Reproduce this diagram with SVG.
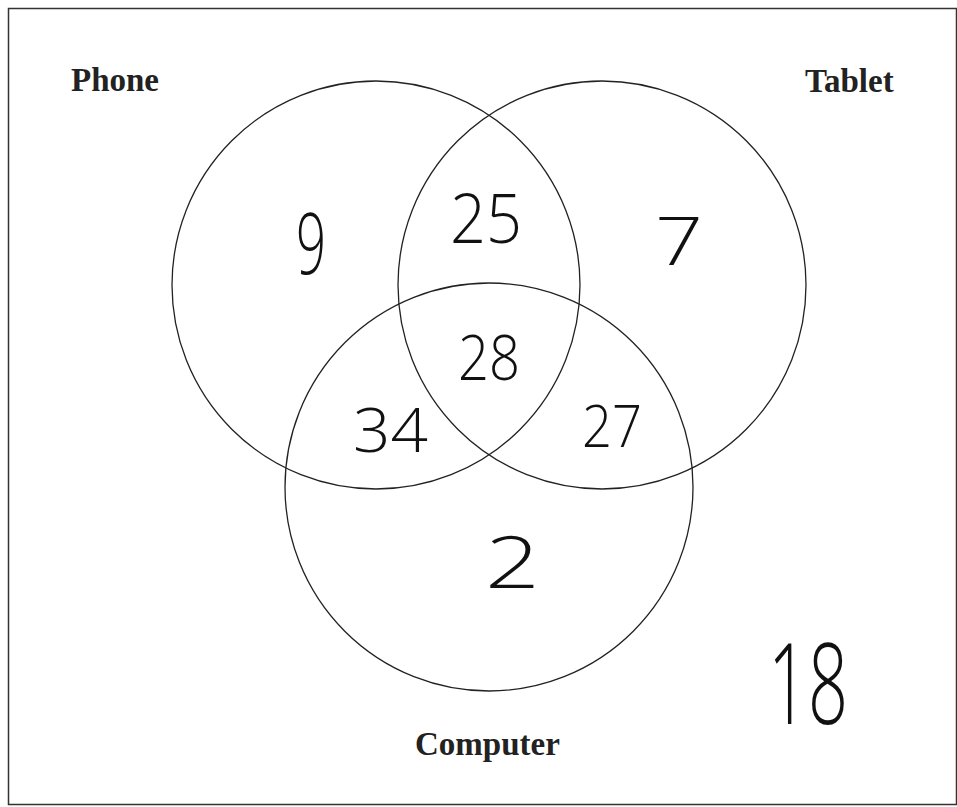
<svg xmlns="http://www.w3.org/2000/svg" width="957" height="807" viewBox="0 0 957 807">
<style>
.lbl{font-family:"Liberation Serif","Times New Roman",serif;font-weight:bold;font-size:33px;fill:#222}
.num{font-family:"Open Sans","Liberation Sans",Arial,sans-serif;font-weight:300;fill:#111}
.set{fill:none;stroke:#222;stroke-width:1.3}
</style>
<rect x="0" y="0" width="957" height="807" fill="#fff"/>
<rect x="8.5" y="8.5" width="948" height="796" fill="none" stroke="#333" stroke-width="1.5"/>
<g id="connectors"></g>
<g id="phone"><circle class="set" cx="376" cy="285" r="204"/><text class="lbl" x="71" y="91">Phone</text></g>
<g id="tablet"><circle class="set" cx="602" cy="285" r="204"/><text class="lbl" x="805" y="92">Tablet</text></g>
<g id="computer"><circle class="set" cx="489" cy="487" r="204"/><text class="lbl" x="415" y="755">Computer</text></g>
<g id="counts">
<text class="num" x="296" y="274" font-size="84" textLength="30" lengthAdjust="spacingAndGlyphs">9</text>
<text class="num" x="450" y="243" font-size="68" textLength="72" lengthAdjust="spacingAndGlyphs">25</text>
<text class="num" x="655" y="265" font-size="66" textLength="48" lengthAdjust="spacingAndGlyphs">7</text>
<text class="num" x="458" y="380" font-size="62" textLength="62" lengthAdjust="spacingAndGlyphs">28</text>
<text class="num" x="353" y="452" font-size="60" textLength="75" lengthAdjust="spacingAndGlyphs">34</text>
<text class="num" x="582" y="447" font-size="58" textLength="60" lengthAdjust="spacingAndGlyphs">27</text>
<text class="num" x="485" y="588" font-size="72" textLength="55" lengthAdjust="spacingAndGlyphs">2</text>
<text class="num" x="768" y="724" font-size="112" textLength="80" lengthAdjust="spacingAndGlyphs">18</text>
</g>
</svg>
